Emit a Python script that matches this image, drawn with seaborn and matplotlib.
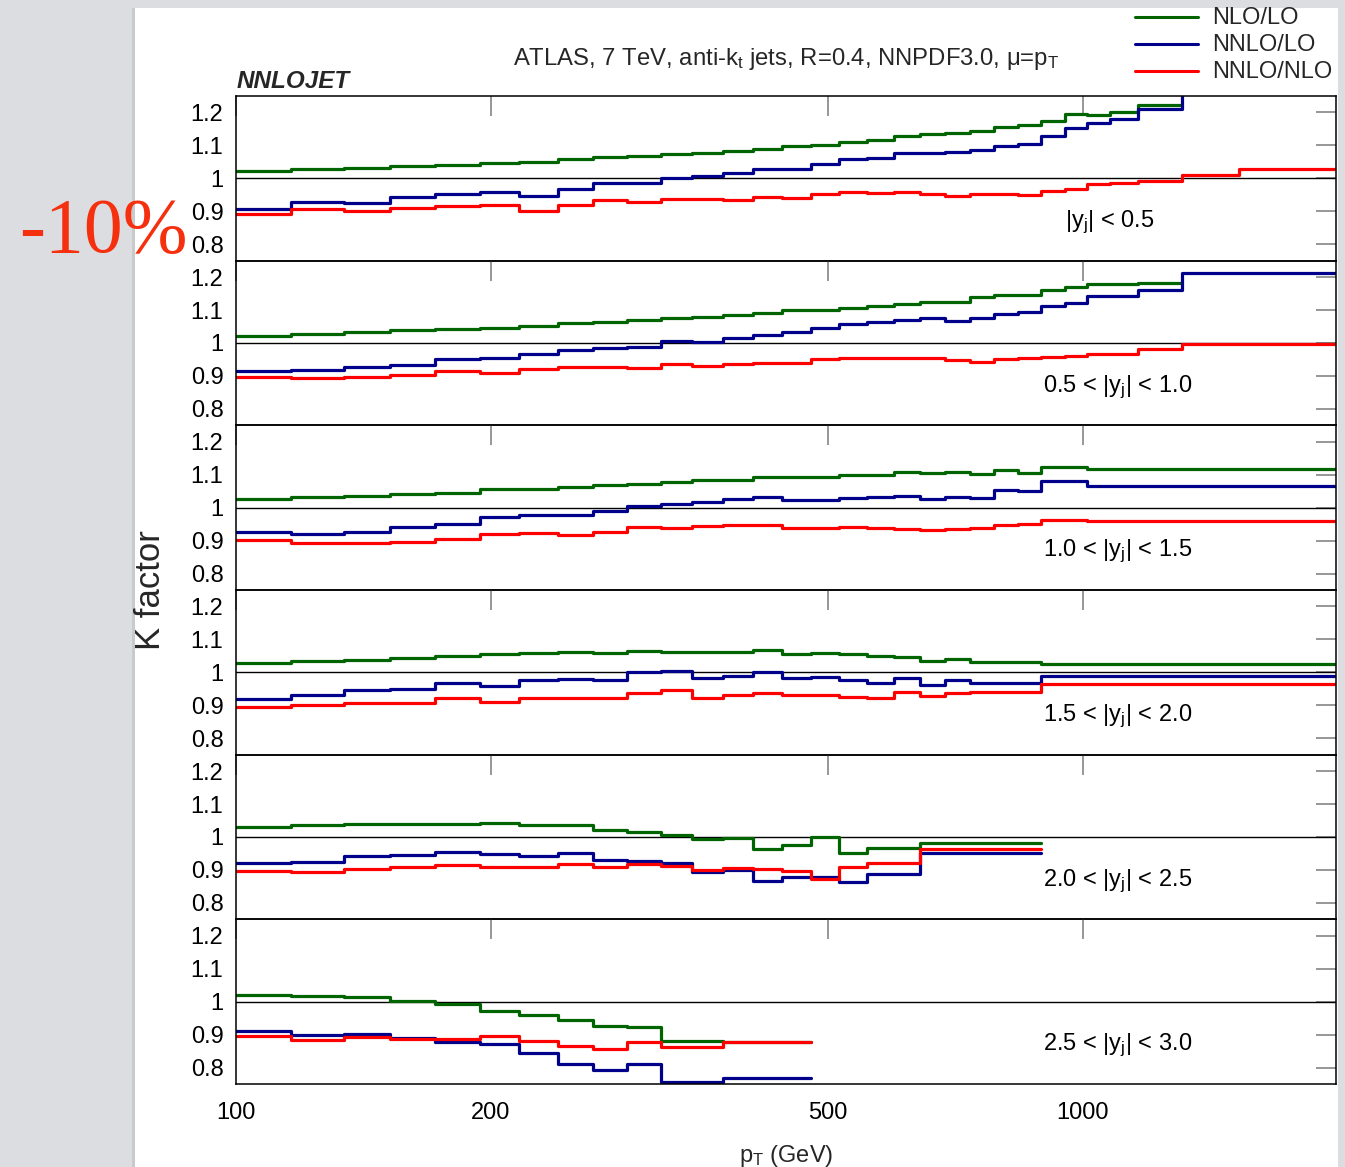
import numpy as np
import pandas as pd
import matplotlib
matplotlib.use("Agg")
import matplotlib.pyplot as plt
from matplotlib.lines import Line2D
from matplotlib.patches import Rectangle
from matplotlib.ticker import FixedLocator, FixedFormatter, NullLocator
import seaborn as sns

# ---------------------------------------------------------------- data
PT_EDGES = [100, 116, 134, 152, 172, 194, 216, 240, 264, 290, 318, 346, 376,
            408, 442, 478, 516, 556, 598, 642, 688, 736, 786, 838, 894, 952,
            1012, 1076, 1162, 1310, 1530, 1992]

SERIES = ["NLO/LO", "NNLO/LO", "NNLO/NLO"]
RAPIDITY_LABELS = [r"|y$_{\mathrm{j}}$| < 0.5",
                   r"0.5 < |y$_{\mathrm{j}}$| < 1.0",
                   r"1.0 < |y$_{\mathrm{j}}$| < 1.5",
                   r"1.5 < |y$_{\mathrm{j}}$| < 2.0",
                   r"2.0 < |y$_{\mathrm{j}}$| < 2.5",
                   r"2.5 < |y$_{\mathrm{j}}$| < 3.0"]

# |y| < 0.5
nlo_lo_1 = [1.021, 1.028, 1.031, 1.036, 1.041, 1.046, 1.051, 1.058, 1.064, 1.069,
            1.074, 1.078, 1.084, 1.090, 1.098, 1.100, 1.109, 1.116, 1.128, 1.134,
            1.139, 1.143, 1.156, 1.163, 1.174, 1.194, 1.191, 1.201, 1.223]
nnlo_lo_1 = [0.906, 0.929, 0.926, 0.942, 0.952, 0.960, 0.946, 0.969, 0.987, 0.987,
             1.000, 1.008, 1.015, 1.028, 1.028, 1.043, 1.059, 1.063, 1.076, 1.078,
             1.080, 1.087, 1.098, 1.104, 1.128, 1.152, 1.169, 1.179, 1.212, 1.290]
nnlo_nlo_1 = [0.892, 0.906, 0.900, 0.910, 0.915, 0.919, 0.902, 0.918, 0.934, 0.927,
              0.937, 0.937, 0.934, 0.944, 0.939, 0.952, 0.957, 0.955, 0.957, 0.953,
              0.947, 0.952, 0.952, 0.949, 0.961, 0.967, 0.984, 0.987, 0.993, 1.011,
              1.027]

# 0.5 < |y| < 1.0
nlo_lo_2 = [1.022, 1.027, 1.034, 1.038, 1.042, 1.047, 1.053, 1.060, 1.065, 1.069,
            1.076, 1.080, 1.086, 1.092, 1.099, 1.099, 1.106, 1.112, 1.119, 1.126,
            1.126, 1.141, 1.146, 1.146, 1.162, 1.170, 1.178, 1.180, 1.182]
nnlo_lo_2 = [0.915, 0.917, 0.926, 0.934, 0.951, 0.954, 0.968, 0.978, 0.985, 0.987,
             1.007, 1.004, 1.016, 1.024, 1.033, 1.045, 1.057, 1.063, 1.070, 1.077,
             1.066, 1.077, 1.089, 1.094, 1.113, 1.122, 1.143, 1.143, 1.160, 1.213,
             1.213]
nnlo_nlo_2 = [0.897, 0.894, 0.898, 0.902, 0.914, 0.910, 0.921, 0.927, 0.927, 0.925,
              0.935, 0.930, 0.935, 0.939, 0.939, 0.950, 0.955, 0.954, 0.954, 0.955,
              0.947, 0.942, 0.950, 0.955, 0.957, 0.960, 0.968, 0.968, 0.981, 0.996,
              0.996]

# 1.0 < |y| < 1.5
nlo_lo_3 = [1.025, 1.031, 1.036, 1.041, 1.046, 1.056, 1.057, 1.064, 1.068, 1.072,
            1.078, 1.083, 1.083, 1.092, 1.092, 1.093, 1.099, 1.100, 1.108, 1.104,
            1.108, 1.101, 1.114, 1.106, 1.124, 1.124, 1.116, 1.116, 1.116, 1.116,
            1.116]
nnlo_lo_3 = [0.925, 0.919, 0.927, 0.941, 0.949, 0.971, 0.977, 0.977, 0.991, 1.006,
             1.010, 1.018, 1.025, 1.032, 1.023, 1.023, 1.030, 1.032, 1.034, 1.027,
             1.031, 1.028, 1.054, 1.052, 1.081, 1.081, 1.067, 1.067, 1.067, 1.067,
             1.067]
nnlo_nlo_3 = [0.902, 0.892, 0.894, 0.896, 0.904, 0.920, 0.924, 0.917, 0.927, 0.941,
              0.939, 0.943, 0.947, 0.947, 0.937, 0.937, 0.940, 0.939, 0.934, 0.931,
              0.934, 0.937, 0.946, 0.951, 0.963, 0.963, 0.960, 0.960, 0.960, 0.960,
              0.960]

# 1.5 < |y| < 2.0
nlo_lo_4 = [1.027, 1.034, 1.038, 1.044, 1.049, 1.055, 1.060, 1.063, 1.060, 1.066,
            1.063, 1.063, 1.062, 1.067, 1.056, 1.058, 1.057, 1.051, 1.046, 1.035,
            1.040, 1.030, 1.030, 1.030, 1.025, 1.025, 1.025, 1.025, 1.025, 1.025,
            1.025]
nnlo_lo_4 = [0.919, 0.931, 0.946, 0.950, 0.967, 0.960, 0.977, 0.980, 0.976, 1.000,
             1.005, 0.982, 0.989, 1.000, 0.982, 0.986, 0.978, 0.969, 0.984, 0.963,
             0.976, 0.969, 0.969, 0.969, 0.989, 0.989, 0.989, 0.989, 0.989, 0.989,
             0.989]
nnlo_nlo_4 = [0.895, 0.900, 0.908, 0.906, 0.921, 0.911, 0.923, 0.923, 0.921, 0.936,
              0.945, 0.922, 0.932, 0.936, 0.930, 0.931, 0.924, 0.921, 0.939, 0.929,
              0.937, 0.940, 0.940, 0.940, 0.965, 0.965, 0.965, 0.965, 0.965, 0.965,
              0.965]

# 2.0 < |y| < 2.5
nlo_lo_5 = [1.031, 1.036, 1.038, 1.040, 1.038, 1.044, 1.036, 1.036, 1.022, 1.014,
            1.006, 0.995, 0.996, 0.963, 0.976, 1.000, 0.950, 0.966, 0.966, 0.983,
            0.983, 0.983, 0.983, 0.983]
nnlo_lo_5 = [0.922, 0.924, 0.941, 0.944, 0.953, 0.947, 0.941, 0.950, 0.929, 0.927,
             0.921, 0.895, 0.900, 0.866, 0.880, 0.878, 0.864, 0.889, 0.889, 0.952,
             0.952, 0.952, 0.952, 0.952]
nnlo_nlo_5 = [0.896, 0.893, 0.904, 0.908, 0.914, 0.908, 0.910, 0.917, 0.910, 0.917,
              0.913, 0.899, 0.906, 0.903, 0.897, 0.873, 0.908, 0.920, 0.920, 0.965,
              0.965, 0.965, 0.965, 0.965]

# 2.5 < |y| < 3.0
nlo_lo_6 = [1.019, 1.017, 1.013, 1.002, 0.993, 0.973, 0.960, 0.944, 0.927, 0.922,
            0.880, 0.880, 0.877, 0.877, 0.877]
nnlo_lo_6 = [0.911, 0.899, 0.902, 0.889, 0.878, 0.871, 0.844, 0.812, 0.792, 0.810,
             0.756, 0.756, 0.767, 0.767, 0.767]
nnlo_nlo_6 = [0.895, 0.884, 0.893, 0.888, 0.886, 0.895, 0.881, 0.864, 0.855, 0.879,
              0.861, 0.861, 0.877, 0.877, 0.877]

PANELS = [
    (nlo_lo_1, nnlo_lo_1, nnlo_nlo_1),
    (nlo_lo_2, nnlo_lo_2, nnlo_nlo_2),
    (nlo_lo_3, nnlo_lo_3, nnlo_nlo_3),
    (nlo_lo_4, nnlo_lo_4, nnlo_nlo_4),
    (nlo_lo_5, nnlo_lo_5, nnlo_nlo_5),
    (nlo_lo_6, nnlo_lo_6, nnlo_nlo_6),
]

Y_TICKS = [0.8, 0.9, 1.0, 1.1, 1.2]
Y_TICK_LABELS = ["0.8", "0.9", "1", "1.1", "1.2"]
X_TICKS = [100, 200, 500, 1000]
X_TICK_LABELS = ["100", "200", "500", "1000"]

# ---------------------------------------------------------------- style
sns.set_theme(style="white")
plt.rcParams["font.family"] = ["Liberation Sans", "DejaVu Sans"]
plt.rcParams["mathtext.fontset"] = "custom"
plt.rcParams["mathtext.rm"] = "Liberation Sans"
plt.rcParams["mathtext.it"] = "Liberation Sans:italic"
plt.rcParams["mathtext.bf"] = "Liberation Sans:bold"

COLORS = {"NLO/LO": "#006400", "NNLO/LO": "#00008b", "NNLO/NLO": "#ff0000"}
TICK_GREY = "#7a7a7a"

W, H = 1345, 1167
fig = plt.figure(figsize=(W / 100, H / 100), dpi=100, facecolor="#dcdde0")

# white sheet with a soft left edge
fig.add_artist(Rectangle((132 / W, 0), 3 / W, 1 - 8 / H, transform=fig.transFigure,
                         facecolor="#c9cacc", edgecolor="none", zorder=0))
fig.add_artist(Rectangle((135 / W, 0), (1338 - 135) / W, 1 - 8 / H,
                         transform=fig.transFigure, facecolor="white",
                         edgecolor="none", zorder=0))

AX_LEFT, AX_RIGHT, AX_TOP, AX_BOTTOM = 236, 1336, 96, 1084
panel_h = (AX_BOTTOM - AX_TOP) / len(PANELS)

axes = []
for i, series_vals in enumerate(PANELS):
    top = AX_TOP + i * panel_h
    ax = fig.add_axes([AX_LEFT / W, 1 - (top + panel_h) / H,
                       (AX_RIGHT - AX_LEFT) / W, panel_h / H])
    ax.set_facecolor("none")
    ax.set_xscale("log")

    frames = []
    for name, vals in zip(SERIES, series_vals):
        n = len(vals)
        frames.append(pd.DataFrame({"pt": PT_EDGES[:n + 1],
                                    "k": list(vals) + [vals[-1]],
                                    "series": name}))
    df = pd.concat(frames, ignore_index=True)

    ax.axhline(1.0, color="black", lw=1.0, zorder=1.5)
    sns.lineplot(data=df, x="pt", y="k", hue="series", hue_order=SERIES,
                 palette=COLORS, estimator=None, sort=False,
                 drawstyle="steps-post", linewidth=2.3, legend=False, ax=ax,
                 zorder=2)

    ax.set_xlim(100, 1992)
    ax.set_ylim(0.75, 1.25)
    ax.set_xlabel("")
    ax.set_ylabel("")

    ax.xaxis.set_major_locator(FixedLocator(X_TICKS))
    ax.xaxis.set_minor_locator(NullLocator())
    ax.yaxis.set_major_locator(FixedLocator(Y_TICKS))
    ax.yaxis.set_minor_locator(NullLocator())
    ax.yaxis.set_major_formatter(FixedFormatter(Y_TICK_LABELS))
    if i == len(PANELS) - 1:
        ax.xaxis.set_major_formatter(FixedFormatter(X_TICK_LABELS))
    else:
        ax.xaxis.set_major_formatter(FixedFormatter([""] * len(X_TICKS)))

    ax.tick_params(axis="both", which="major", direction="in", length=14.5,
                   width=1.1, color=TICK_GREY, labelsize=17,
                   labelcolor="black", top=True, right=True)
    ax.tick_params(axis="y", pad=9)
    ax.tick_params(axis="x", pad=13)
    for sp in ax.spines.values():
        sp.set_color("black")
        sp.set_linewidth(1.1)
        sp.set_visible(True)

    ax.text(952 if i == 0 else 899, 0.852, RAPIDITY_LABELS[i], fontsize=17,
            ha="left", va="baseline", color="black")
    axes.append(ax)

# ---------------------------------------------------------------- annotations
fig.text(786 / W, 1 - 65 / H,
         r"ATLAS, 7 TeV, anti-k$_{\mathrm{t}}$ jets, R=0.4, NNPDF3.0, μ=p$_{\mathrm{T}}$",
         ha="center", va="baseline", fontsize=17.2)
fig.text(237 / W, 1 - 88 / H, "NNLOJET", ha="left", va="baseline",
         fontsize=17.5, fontweight="bold", fontstyle="italic")

legend_y = [17, 44, 71]
for name, y in zip(SERIES, legend_y):
    fig.add_artist(Line2D([1135 / W, 1198 / W], [1 - y / H, 1 - y / H],
                          transform=fig.transFigure, color=COLORS[name], lw=2.2))
    fig.text(1212 / W, 1 - (y + 1) / H, name, ha="left", va="center",
             fontsize=17)

fig.text(151 / W, 1 - 590 / H, "K factor", rotation=90, ha="center",
         va="center", fontsize=25)
fig.text(786 / W, 1 - 1162 / H, r"p$_{\mathrm{T}}$ (GeV)", ha="center",
         va="baseline", fontsize=17)

fig.text(19 / W, 1 - 252 / H, "-10%", ha="left", va="baseline", fontsize=56,
         family=["Liberation Serif", "DejaVu Serif"], color="#f5300f")

fig.savefig("out.png", dpi=100, facecolor=fig.get_facecolor())
